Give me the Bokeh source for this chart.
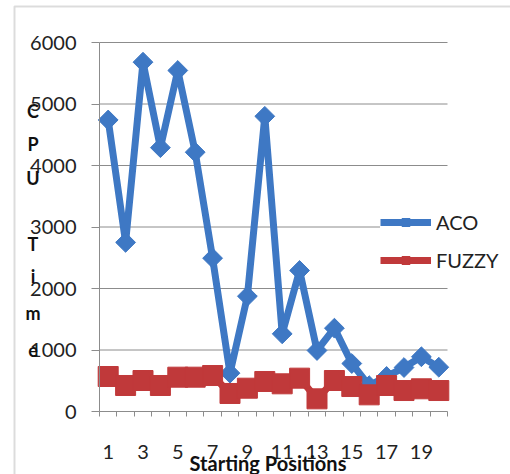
import numpy as np
from bokeh.plotting import figure
from bokeh.models import (Range1d, FixedTicker, Legend, LegendItem, Label,
                          BoxAnnotation, LinearAxis)
from bokeh.embed import file_html
from bokeh.resources import INLINE

# ---- data ----
positions = list(range(1, 21))
aco = [4740, 2750, 5680, 4290, 5545, 4216, 2493, 623, 1875, 4800,
       1263, 2293, 992, 1355, 780, 420, 570, 715, 890, 720]
fuzzy = [569, 423, 504, 423, 558, 558, 585, 293, 379, 488,
         450, 542, 206, 504, 406, 271, 423, 341, 369, 341]
y_ticks = [0, 1000, 2000, 3000, 4000, 5000, 6000]
x_tick_labels = [1, 3, 5, 7, 9, 11, 13, 15, 17, 19]
series_names = ["ACO", "FUZZY"]
x_title = "Starting Positions"
y_title_letters = ["C", "P", "U", "T", "i", "m", "e"]

# ---- layout (pixels in the 510x474 canvas) ----
W, H = 510, 474
PL, PR, PT, PB = 99, 447, 42, 411      # plot-area edges
XMIN, XMAX, YMIN, YMAX = 0.5, 20.5, 0, 6000
sx = (XMAX - XMIN) / (PR - PL)
sy = (YMAX - YMIN) / (PB - PT)
LABEL_SHIFT = 8   # observed baseline offset of Label text

def px_to_x(px):
    return XMIN + (px - PL) * sx

def py_to_y(py):
    return YMIN + (PB - py) * sy

BLUE = "#3e78c4"
RED = "#c0393a"
GRID = "#8c8c8c"
FONT = "Lato"
TXT = "#222222"

p = figure(width=W, height=H, output_backend="svg", toolbar_location=None,
           x_range=Range1d(px_to_x(0), px_to_x(W)),
           y_range=Range1d(py_to_y(H), py_to_y(0)),
           x_axis_location=None, y_axis_location=None,
           min_border=0)
p.outline_line_color = None
p.background_fill_color = "white"
p.border_fill_color = "white"
p.xgrid.visible = False
p.ygrid.visible = False

# horizontal gridlines at the y ticks
gl = [t for t in y_ticks if t != 0]
p.segment(x0=[XMIN] * len(gl), x1=[XMAX] * len(gl), y0=gl, y1=gl,
          line_color=GRID, line_width=1)

xa = LinearAxis(fixed_location=YMIN, bounds=(XMIN, XMAX))
xa.ticker = FixedTicker(ticks=x_tick_labels,
                        minor_ticks=[i + 0.5 for i in range(0, 21)])
xa.major_tick_line_color = None
xa.major_tick_out = 0
xa.major_tick_in = 0
xa.minor_tick_line_color = GRID
xa.minor_tick_out = 5
xa.minor_tick_in = 0
xa.axis_line_color = GRID
xa.major_label_standoff = 28
xa.major_label_text_font = FONT
xa.major_label_text_font_size = "20px"
xa.major_label_text_color = TXT
p.add_layout(xa, "below")

ya = LinearAxis(fixed_location=XMIN, bounds=(YMIN, YMAX))
ya.ticker = FixedTicker(ticks=y_ticks)
ya.major_tick_line_color = GRID
ya.major_tick_out = 8
ya.major_tick_in = 0
ya.minor_tick_line_color = None
ya.axis_line_color = GRID
ya.major_label_standoff = 15
ya.major_label_text_font = FONT
ya.major_label_text_font_size = "20px"
ya.major_label_text_color = TXT
p.add_layout(ya, "left")

aco_line = p.line(positions, aco, line_width=7, color=BLUE)
aco_pts = p.scatter(positions, aco, marker="square", angle=np.pi / 4,
                    size=14, color=BLUE)
fz_line = p.line(positions, fuzzy, line_width=7, color=RED)
fz_pts = p.scatter(positions, fuzzy, marker="square", size=20, color=RED)

legend = Legend(items=[LegendItem(label=series_names[0], renderers=[aco_line, aco_pts]),
                       LegendItem(label=series_names[1], renderers=[fz_line, fz_pts])],
                location=(380, 202), glyph_width=51, glyph_height=20,
                label_height=20, spacing=14, padding=0, margin=0,
                border_line_color=None, background_fill_color="white",
                background_fill_alpha=1.0, label_standoff=5,
                label_text_font=FONT, label_text_font_size="20px",
                label_text_color=TXT)
p.add_layout(legend)

# axis titles
p.add_layout(Label(x=px_to_x(267.5), y=py_to_y(470 - LABEL_SHIFT), text=x_title,
                   text_align="center", text_baseline="alphabetic",
                   text_font=FONT, text_font_style="bold",
                   text_font_size="20px", text_color="#111111"))
letter_baselines = [118, 151.7, 185, 251.7, 283, 320, 357]
for ch, by in zip(y_title_letters, letter_baselines):
    p.add_layout(Label(x=px_to_x(32.5), y=py_to_y(by - LABEL_SHIFT), text=ch,
                       text_align="center", text_baseline="alphabetic",
                       text_font=FONT, text_font_style="bold",
                       text_font_size="18px", text_color="#111111"))

# chart border (top and left edges visible)
p.add_layout(BoxAnnotation(left=px_to_x(14), right=px_to_x(540),
                           top=py_to_y(6), bottom=py_to_y(520),
                           fill_alpha=0, line_color="#8a8a8a", line_width=2))

open("out.html", "w").write(file_html(p, INLINE))
